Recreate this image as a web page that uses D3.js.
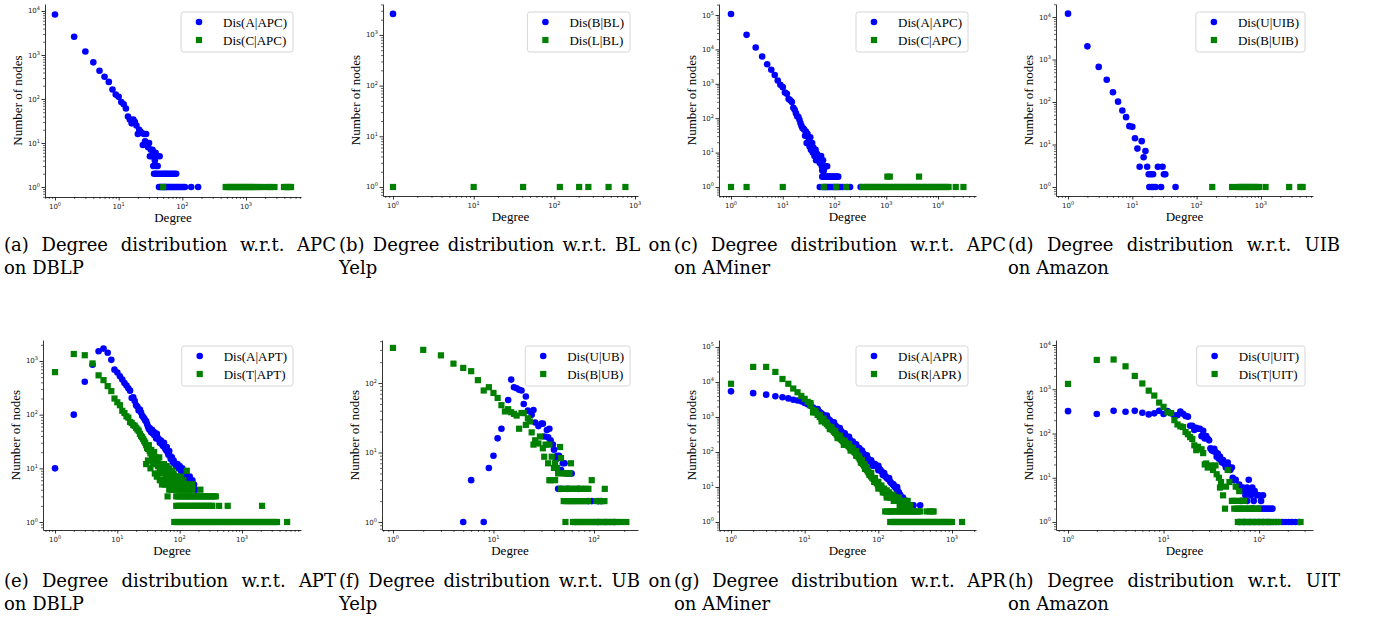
<!DOCTYPE html>
<html>
<head>
<meta charset="utf-8">
<script src="https://cdn.jsdelivr.net/npm/d3@7"></script>
<style>
  body { margin: 0; background: #fff; }
  svg { display: block; }
</style>
</head>
<body>
<svg id="fig" width="1374" height="620"></svg>
<script>
// ---------------- data (degree, number of nodes) ----------------
// (a) DBLP, APC
var aA = [[1,8300],[2,2600],[3,1200],[4,680],[5,440],[6,320],[7,245],[8,165],[9,126],[10,112],[11,85],[12,76],[13,61],[14,40],[15,34],[16,28],[17,34],[18,30],[19,25],[20,16],[21,20],[22,18],[23,17],[24,9],[25,16],[26,11],[27,16],[28,9],[29,8],[30,10],[31,5],[32,7],[33,5],[34,7],[35,3],[36,5],[37,4],[38,6],[39,3],[40,5],[44,5],[41,3],[36,2],[38,2],[40,2],[43,2],[46,2],[49,2],[52,2],[55,2],[58,2],[62,2],[66,2],[70,2],[75,2],[80,2]];
var aA_one = [43,45,47,49,51,53,55,57,60,63,66,69,72,76,80,84,88,93,98,104,110,138,177];
var aC_one = [50,480,510,545,580,620,660,705,750,800,855,910,970,1040,1110,1180,1260,1350,1440,1650,1800,2200,2400,2800,3950,4200,4500,4800,5100];

// (b) Yelp, BL
var bB = [[1,2600]];
var bL_one = [1,10,41,117,203,264,470,760];

// (c) AMiner, APC
var cA = [[1,107000],[2,26500],[3,11400],[4,6200],[5,3700],[6,2550],[7,1800],[8,1250],[9,940],[10,800],[11,560],[12,510],[13,360],[14,330],[15,295],[16,200],[17,175],[18,140],[19,113],[20,108],[21,90],[22,72],[23,60],[24,52],[25,50],[26,46],[27,31],[28,41],[29,19],[30,35],[31,28],[32,21],[33,15],[34,28],[35,12],[36,17],[37,19],[38,10],[39,14],[40,10],[41,8],[42,11],[43,12],[44,6],[45,9],[46,9],[48,7],[50,7],[52,5],[53,6],[55,8],[57,4],[58,3],[60,6],[62,3],[66,4],[72,4],[58,2],[61,2],[64,2],[67,2],[71,2],[75,2],[79,2],[84,2],[90,2],[96,2],[103,2],[110,2],[118,2]];
var cA_one = [52,60,64,68,73,78,84,90,97,104,112,120,130,145,175,200,320];
var cC = [[1050,2],[1170,2],[4300,2]];
var cC_one = [1,2,10,62,108,168,345,380,420,465,515,570,630,700,775,860,950,1050,1160,1290,1420,1580,1750,1930,2140,2370,2620,2900,3210,3550,3930,4350,4820,5330,5900,6530,7230,8000,8860,9800,10850,12000,13300,14700,16000,22000,31000];

// (d) Amazon, UIB
var dU = [[1,12000],[2,2040],[3,670],[4,335],[5,170],[6,102],[7,63],[8,44],[9,27],[10,26],[11,14],[12,8],[13,3],[14,12],[15,5],[16,7],[17,3],[18,2],[19.4,2],[21,2],[18.4,1],[20,1],[21.2,1],[23,1],[25,3],[28,1],[29.5,3],[31,2],[32.6,2],[47,1]];
var dB_one = [175,356,437,470,505,545,585,630,680,730,790,850,930,1180,2750,4100,4450];

// (e) DBLP, APT
var eA = [[1,10],[2,100],[3,410],[4,850],[5,1520],[6,1700],[7,1420],[8,1050],[9,690],[10,610],[11,520],[12,450],[13,390],[14,350],[15,310],[16,280],[17,205],[18,210],[19,180],[20,150],[21,140],[22,120],[23,125],[24,110],[25,95],[26,90],[27,85],[28,78],[29,75],[30,67],[31,60],[32,54],[33,56],[34,50],[35,47],[36,52],[37,45],[38,48],[39,42],[40,46],[41,40],[42,36],[43,44],[44,38],[46,35],[48,30],[50,33],[52,28],[54,26],[56,30],[58,24],[60,22],[62,25],[64,20],[66,18],[68,21],[70,17],[72,15],[75,16],[78,13],[80,14],[84,12],[88,11],[92,12],[96,10],[100,11],[105,9],[110,10],[115,8],[120,7],[125,8],[130,7],[138,6],[145,7],[152,5],[160,6],[170,5],[182,4],[60,10],[75,8],[90,7],[110,6]];
var eT = [[1,620],[2,1350],[3,1280],[4,900],[5,540],[6,440],[7,340],[8,275],[9,200],[10,170],[11,150],[12,118],[13,107],[14,93],[15,88],[16,73],[17,70],[18,64],[19,62],[20,57],[21,53],[22,50],[23,44],[24,40],[25,38],[26,35],[27,32],[28,30],[29,27],[30,24],[31,23],[32,27],[33,21],[34,19],[35,22],[36,17],[37,18],[38,15],[39,20],[40,14],[41,16],[42,13],[43,12],[44,15],[45,11],[46,12],[47,16],[48,10],[49,11],[50,9],[52,10],[54,8],[56,12],[58,9],[60,7],[62,11],[64,6],[66,8],[68,10],[70,7],[72,6],[75,9],[78,5],[80,8],[84,6],[88,7],[92,5],[96,6],[100,5],[105,7],[110,5],[115,6],[120,5],[125,5],[130,9],[140,5],[150,5],[160,5],[29,12],[31,14],[34,10],[37,12],[40,8],[43,7],[48,6],[52,5],[58,5],[63,5],[45,8],[55,6]];
var eT_four = [68,74,80,88,96,105,115,126,138,150,160,215];
var eT_three = [64,88,95,103,111,120,130,140,152,164,177,191,206,223,241,260,281,303,327,353,380];
var eT_two = [88,96,105,114,124,135,147,160,174,190,207,225,245,267,290,315,335,430,590,2100];
var eT_one = [82,89,97,105,114,124,135,147,160,174,190,207,225,245,267,290,316,344,375,408,445,485,528,575,626,682,743,809,881,960,1045,1140,1240,1350,1470,1600,1745,1900,2070,2250,2450,2670,2910,3170,3450,3650,5300];

// (f) Yelp, UB
var fU = [[5,1],[6,4],[8,1],[9,6],[10,9],[11,16],[12,22],[14,57],[15,112],[16,87],[17,84],[18,80],[19,78],[20,50],[21,64],[22,40],[24,35],[25,41],[26,27],[28,24],[30,26],[31,26],[32,17],[34,21],[35,16.5],[36,22],[37,15],[39,13],[40,11],[42,8],[43,9],[45,9],[47,5.6],[49,7],[51,7],[54,5],[58,5],[60,5],[44,3],[47,3],[55,3],[70,3],[88,2],[95,2],[110,2],[118,2],[110,1],[130,1],[160,1]];
var fB = [[1,320],[2,300],[3,250],[4,190],[5,165],[6,148],[7,110],[8,78],[9,87],[10,72],[11,61],[12,48],[13,39],[14,42],[15,38],[16,36],[17,34],[18,22],[19,37],[20,37],[21,25],[22,31],[23,28],[24,19.5],[25,13],[26,15],[28,13.5],[29,17],[31,11.5],[32,8.7],[33,13],[35,7],[36,13],[37,4],[38,8.7],[40,6],[41,7],[43,6],[44,5],[46,12],[47,8.3],[36,4],[41,4],[50,5],[52,5],[55,5],[57,5],[59,7],[95,4]];
var fB_three = [47,50,53,56,59,62,66,70,74,78,83,88,128];
var fB_two = [50,53,56,59,62,65,69,73,77,82,87,106,113,120,127];
var fB_one = [52,62,65,68,72,76,80,84,89,94,99,104,110,116,122,129,136,143,151,159,168,185,210];

// (g) AMiner, APR
var gA = [[1,5400],[2,4800],[3,4350],[4,3900],[5,3650],[6,3400],[7,3100],[8,2950],[9,2800],[10,2500],[11,2300],[12,2100],[13,1850],[14,1650],[15,1500],[16,1380],[17,1250],[18,1130],[19,1040],[20,960],[21,880],[22,800],[23,730],[24,670],[25,620],[26,570],[27,530],[28,490],[29,455],[30,420],[31,400],[32,370],[33,345],[34,325],[35,305],[36,290],[37,275],[38,260],[39,245],[40,235],[41,222],[42,210],[43,200],[44,190],[45,180],[46,172],[47,165],[48,158],[49,150],[50,145],[52,135],[54,125],[56,115],[58,106],[60,98],[62,92],[64,86],[66,80],[68,74],[70,70],[72,65],[74,61],[76,57],[78,54],[80,51],[82,48],[85,46],[88,43],[91,41],[94,39],[97,38],[100,36],[103,33],[106,31],[110,28],[114,26],[118,23],[122,21],[126,20],[130,18],[135,17],[140,16],[145,14],[150,13],[156,12],[162,11],[168,10],[175,9],[182,8],[190,7],[198,6],[207,5],[216,5],[225,4],[240,4],[255,3],[280,3],[300,3],[370,3],
  [15,1700],[20,1100],[25,700],[30,480],[35,340],[40,270],[45,200],[50,165],[55,130],[60,110],[70,80],[80,58],[90,45],[100,40],[120,25],[140,18],[160,12],[180,10],[22,700],[28,430],[33,300],[38,230],[44,170],[52,120],[62,80],[72,58],[85,40],[100,30],[115,22]];
var gR = [[1,8900],[2,27000],[3,27000],[4,19400],[5,12200],[6,8900],[7,6500],[8,5100],[9,4000],[10,3300],[11,2700],[12,2150],[13,1600],[14,1350],[15,1150],[16,1000],[17,880],[18,780],[19,690],[20,620],[21,560],[22,505],[23,460],[24,420],[25,380],[26,350],[27,320],[28,295],[29,270],[30,250],[31,235],[32,220],[33,207],[34,195],[35,186],[36,178],[37,169],[38,160],[39,152],[40,145],[41,137],[42,130],[43,124],[44,118],[45,113],[46,108],[47,103],[48,99],[49,95],[50,92],[52,80],[54,70],[56,62],[58,55],[60,49],[62,45],[64,41],[66,37],[68,34],[70,31],[72,28],[74,26],[76,24],[78,22],[80,20],[83,18],[86,17],[89,15],[92,14],[95,13],[98,12],[101,11],[105,10],[110,9],[115,8],[120,7],[125,7],[130,6],[136,6],[142,5],[148,5],[155,5],[162,4],[170,4],[178,4],[186,4],[195,3],[205,3],[215,3],[228,3],[240,3],[255,3],[270,3],
  [12,2500],[14,1500],[16,1150],[18,900],[20,700],[23,520],[26,400],[30,290],[35,210],[40,170],[45,130],[50,105],[55,75],[60,58],[65,45],[70,36],[80,25],[90,18],[100,14],[110,11],[120,9],[130,8],[140,7],[150,6],[160,6],[175,5],[190,5],[210,4],[230,4],[250,4],[13,1350],[17,750],[22,450],[28,250],[34,160],[42,110],[50,78],[58,50],[66,33],[76,22],[88,14],[100,9],[115,7],[130,5]];
var gR_two = [124,132,141,150,160,171,182,194,207,221,236,252,268,286,305,325,347,372,458,500,540,563];
var gR_one = [145,155,166,178,190,203,217,232,248,265,283,303,324,346,370,395,422,451,482,515,550,588,628,671,717,766,818,874,934,998,1370];

// (h) Amazon, UIT
var hU = [[1,320],[2,275],[3,325],[4,310],[5,325],[6,295],[7,270],[8,285],[9,325],[10,275],[11,320],[12,285],[13,255],[14,260],[15,315],[16,280],[17,250],[18,240],[19,150],[20,150],[21,120],[22,135],[23,128],[24,128],[25,87],[26,115],[27,77],[28,88],[29,76],[30,70],[31,46],[32,42],[33,40],[34,45],[35,38],[36,30],[37,35],[38,27],[39,30],[40,25],[41,22],[42,25],[44,20],[45,17],[47,22],[48,18],[50,15],[52,17],[53,10],[55,8.8],[57,9],[60,6.2],[62,7],[65,5],[68,6],[70,5],[72,4],[75,6],[78,9],[80,5],[82,4],[85,6],[88,3],[90,5],[95,4],[100,4],[105,3],[110,4],[65,3],[75,3],[85,2],[100,2],[108,2],[115,2],[122,2],[130,2],[138,2]];
var hU_one = [62,70,80,90,100,110,123,130,140,150,160,175,190,205,220,240,265];
var hT = [[1,1320],[2,4600],[3,4700],[4,3300],[5,2000],[6,1350],[7,930],[8,720],[9,500],[10,400],[11,300],[12,290],[13,200],[14,160],[15,145],[16,140],[17,108],[18,96],[19,83],[20,75],[21,54],[22,42],[23,50],[25,44],[26,36],[27,20],[28,21],[29,17],[31,19],[33,15],[35,19],[36,12],[38,10],[39,6],[40,8],[42,4],[45,6.3],[47,15],[49,8],[52,3],[57,6.3],[62,5],[44,2],[55,3],[58,3],[65,3],[70,3]];
var hT_two = [55,58,61,64,67,71,75,79,83,88,93,98];
var hT_one = [60,63,66,69,72,76,80,84,88,93,98,103,108,114,120,126,140,160,272];

// series names and caption lines
var legendNames = [
  ["Dis(A|APC)", "Dis(C|APC)"], ["Dis(B|BL)", "Dis(L|BL)"],
  ["Dis(A|APC)", "Dis(C|APC)"], ["Dis(U|UIB)", "Dis(B|UIB)"],
  ["Dis(A|APT)", "Dis(T|APT)"], ["Dis(U|UB)", "Dis(B|UB)"],
  ["Dis(A|APR)", "Dis(R|APR)"], ["Dis(U|UIT)", "Dis(T|UIT)"]
];
var captions = [
  ["(a) Degree distribution w.r.t. APC", "on DBLP"],
  ["(b) Degree distribution w.r.t. BL on", "Yelp"],
  ["(c) Degree distribution w.r.t. APC", "on AMiner"],
  ["(d) Degree distribution w.r.t. UIB", "on Amazon"],
  ["(e) Degree distribution w.r.t. APT", "on DBLP"],
  ["(f) Degree distribution w.r.t. UB on", "Yelp"],
  ["(g) Degree distribution w.r.t. APR", "on AMiner"],
  ["(h) Degree distribution w.r.t. UIT", "on Amazon"]
];

function withCount(degs, n) { return degs.map(function(d) { return [d, n]; }); }

var blueSeries = [
  aA.concat(withCount(aA_one, 1)), bB, cA.concat(withCount(cA_one, 1)), dU,
  eA, fU, gA, hU.concat(withCount(hU_one, 1))
];
var greenSeries = [
  withCount(aC_one, 1), withCount(bL_one, 1), cC.concat(withCount(cC_one, 1)), withCount(dB_one, 1),
  eT.concat(withCount(eT_four, 4), withCount(eT_three, 3), withCount(eT_two, 2), withCount(eT_one, 1)),
  fB.concat(withCount(fB_three, 3), withCount(fB_two, 2), withCount(fB_one, 1)),
  gR.concat(withCount(gR_two, 2), withCount(gR_one, 1)),
  hT.concat(withCount(hT_two, 2), withCount(hT_one, 1))
];

// ---------------- layout ----------------
var panels = [
  {x0: 45,   x1: 301,  y0: 4,   y1: 197, xe: [-0.157, 3.864], ye: [-0.227, 4.159]},
  {x0: 383,  x1: 638,  y0: 4,   y1: 196, xe: [-0.124, 3.037], ye: [-0.178, 3.61]},
  {x0: 719,  x1: 976,  y0: 4,   y1: 196, xe: [-0.232, 4.734], ye: [-0.262, 5.32]},
  {x0: 1056, x1: 1313, y0: 4,   y1: 196, xe: [-0.187, 3.81],  ye: [-0.212, 4.306]},
  {x0: 43,   x1: 301,  y0: 340, y1: 530, xe: [-0.193, 3.947], ye: [-0.149, 3.391]},
  {x0: 382,  x1: 638,  y0: 340, y1: 530, xe: [-0.109, 2.438], ye: [-0.115, 2.619]},
  {x0: 719,  x1: 976,  y0: 340, y1: 530, xe: [-0.163, 3.326], ye: [-0.229, 5.2]},
  {x0: 1056, x1: 1313, y0: 340, y1: 530, xe: [-0.126, 2.565], ye: [-0.181, 4.113]}
];
var capX = [4, 339, 674, 1008], capW = 332;
var blue = "#0000ff", green = "#008000";
var SERIF = "'Liberation Serif', serif";
var CAPFONT = "'DejaVu Serif', serif";
var SANS = "'DejaVu Sans', sans-serif";

var svg = d3.select("#fig");

function decades(lo, hi) {
  var out = [];
  for (var e = Math.ceil(lo); e <= Math.floor(hi); e++) out.push(Math.pow(10, e));
  return out;
}
function minors(lo, hi) {
  var out = [];
  for (var e = Math.floor(lo); e <= Math.ceil(hi); e++) {
    for (var k = 2; k < 10; k++) {
      var v = k * Math.pow(10, e), l = Math.log10(v);
      if (l >= lo && l <= hi) out.push(v);
    }
  }
  return out;
}
function styleAxis(s) {
  s.selectAll("path,line").attr("stroke", "#000").attr("stroke-width", 0.8);
}
function powLabel(sel, v) {
  sel.style("font-family", SANS).style("font-size", "7px").attr("fill", "#222");
  sel.append("tspan").text("10");
  sel.append("tspan").attr("dy", -3).style("font-size", "5px").text(Math.round(Math.log10(v)));
}
function fontText(sel, size, fam) {
  sel.style("font-family", fam || SERIF).style("font-size", size + "px").attr("fill", "#000");
}

panels.forEach(function(p, i) {
  var x = d3.scaleLog().domain([Math.pow(10, p.xe[0]), Math.pow(10, p.xe[1])]).range([p.x0, p.x1]);
  var y = d3.scaleLog().domain([Math.pow(10, p.ye[0]), Math.pow(10, p.ye[1])]).range([p.y1, p.y0]);
  var g = svg.append("g");

  // minor ticks
  g.append("g").attr("transform", "translate(0," + p.y1 + ")")
    .call(d3.axisBottom(x).tickValues(minors(p.xe[0], p.xe[1])).tickSize(2).tickSizeOuter(0).tickFormat(""))
    .call(function(s) { s.select(".domain").remove(); styleAxis(s); s.selectAll("line").attr("stroke-width", 0.6); });
  g.append("g").attr("transform", "translate(" + p.x0 + ",0)")
    .call(d3.axisLeft(y).tickValues(minors(p.ye[0], p.ye[1])).tickSize(2).tickSizeOuter(0).tickFormat(""))
    .call(function(s) { s.select(".domain").remove(); styleAxis(s); s.selectAll("line").attr("stroke-width", 0.6); });

  // major ticks + spines
  var xMaj = decades(p.xe[0], p.xe[1]), yMaj = decades(p.ye[0], p.ye[1]);
  g.append("g").attr("transform", "translate(0," + p.y1 + ")")
    .call(d3.axisBottom(x).tickValues(xMaj).tickSize(3.5).tickSizeOuter(0).tickFormat(""))
    .call(styleAxis);
  g.append("g").attr("transform", "translate(" + p.x0 + ",0)")
    .call(d3.axisLeft(y).tickValues(yMaj).tickSize(3.5).tickSizeOuter(0).tickFormat(""))
    .call(styleAxis);

  xMaj.forEach(function(v) {
    g.append("text").attr("text-anchor", "middle")
      .attr("x", x(v)).attr("y", p.y1 + 12).call(powLabel, v);
  });
  yMaj.forEach(function(v) {
    g.append("text").attr("text-anchor", "end")
      .attr("x", p.x0 - 5).attr("y", y(v) + 2.5).call(powLabel, v);
  });

  // axis labels
  g.append("text").call(fontText, 13).attr("text-anchor", "middle")
    .attr("x", (p.x0 + p.x1) / 2).attr("y", p.y1 + 25).text("Degree");
  g.append("text").call(fontText, 13).attr("text-anchor", "middle")
    .attr("transform", "translate(" + (p.x0 - 23) + "," + ((p.y0 + p.y1) / 2) + ") rotate(-90)")
    .text("Number of nodes");

  // points
  g.append("g").selectAll("circle").data(blueSeries[i]).enter().append("circle")
    .attr("cx", function(d) { return x(d[0]); })
    .attr("cy", function(d) { return y(d[1]); })
    .attr("r", 3.3).attr("fill", blue);
  g.append("g").selectAll("rect").data(greenSeries[i]).enter().append("rect")
    .attr("x", function(d) { return x(d[0]) - 3.1; })
    .attr("y", function(d) { return y(d[1]) - 3.1; })
    .attr("width", 6.2).attr("height", 6.2).attr("fill", green);

  // legend
  var lg = g.append("g");
  var box = lg.append("rect").attr("rx", 2.5).attr("ry", 2.5)
    .attr("fill", "#fff").attr("fill-opacity", 0.8).attr("stroke", "#cccccc").attr("stroke-width", 0.8);
  var ly = p.y0 + (i < 4 ? 8 : 6);
  var t1 = lg.append("text").call(fontText, 13).attr("dy", "0.35em").text(legendNames[i][0]);
  var t2 = lg.append("text").call(fontText, 13).attr("dy", "0.35em").text(legendNames[i][1]);
  var tw = Math.max(t1.node().getComputedTextLength(), t2.node().getComputedTextLength());
  var bw = 42 + tw + 6, bx = p.x1 - 8 - bw;
  box.attr("x", bx).attr("y", ly).attr("width", bw).attr("height", 40);
  t1.attr("x", bx + 42).attr("y", ly + 10);
  t2.attr("x", bx + 42).attr("y", ly + 28);
  lg.append("circle").attr("cx", bx + 18).attr("cy", ly + 10).attr("r", 3.3).attr("fill", blue);
  lg.append("rect").attr("x", bx + 18 - 3.1).attr("y", ly + 28 - 3.1).attr("width", 6.2).attr("height", 6.2).attr("fill", green);

  // caption: first line justified, second line left
  var cx = capX[i % 4], base = i < 4 ? 251 : 587;
  var words = captions[i][0].split(" ");
  var nodes = words.map(function(w) {
    return svg.append("text").call(fontText, 18, CAPFONT).attr("y", base).text(w);
  });
  var widths = nodes.map(function(n) { return n.node().getComputedTextLength(); });
  var gap = (capW - d3.sum(widths)) / (words.length - 1);
  var cur = cx;
  nodes.forEach(function(n, k) { n.attr("x", cur); cur += widths[k] + gap; });
  svg.append("text").call(fontText, 18, CAPFONT).attr("x", cx).attr("y", base + 23).text(captions[i][1]);
});
</script>
</body>
</html>
